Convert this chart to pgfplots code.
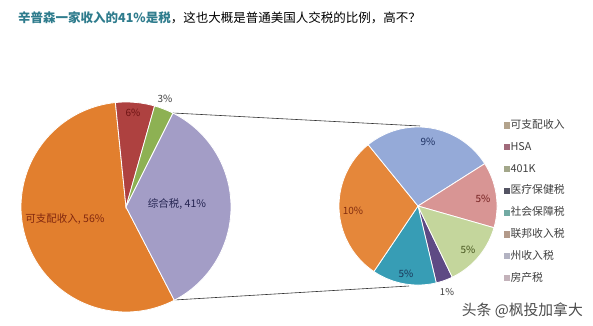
\documentclass[border=0pt]{standalone}
\usepackage{pgfplots}
\pgfplotsset{compat=1.18}
\usepackage{fontspec}
\newfontfamily\cjk{Noto Sans CJK SC}
\definecolor{titleteal}{HTML}{2F7C8D}
\definecolor{mOrange}{HTML}{E27F2E}
\definecolor{mRed}{HTML}{AE4140}
\definecolor{mGreen}{HTML}{8DB153}
\definecolor{mLav}{HTML}{A39DC6}
\definecolor{sBlue}{HTML}{95AAD8}
\definecolor{sPink}{HTML}{D89594}
\definecolor{sGreen}{HTML}{C4D69C}
\definecolor{sPurple}{HTML}{5E4A84}
\definecolor{sTeal}{HTML}{379DB5}
\definecolor{sOrange}{HTML}{E5873A}
% muted legend colours
\definecolor{lg1}{HTML}{B3A38C}
\definecolor{lg2}{HTML}{A06A7A}
\definecolor{lg3}{HTML}{A3A78A}
\definecolor{lg4}{HTML}{545463}
\definecolor{lg5}{HTML}{72AAA3}
\definecolor{lg6}{HTML}{B39A8A}
\definecolor{lg7}{HTML}{B3B3C2}
\definecolor{lg8}{HTML}{C3B2BA}

% slice drawing: running sum \pcum, \ptotal, \pstart, centre \pcx,\pcy, radius \prr
\newcommand\pieslice[2]{%
  \pgfmathsetmacro\pangA{\pstart-\pcum/\ptotal*360}%
  \pgfmathsetmacro\pangB{\pstart-(\pcum+#2)/\ptotal*360}%
  \edef\pdoslice{\noexpand\addplot[forget plot, draw=white, line width=0.8pt, fill=#1, domain=\pangB:\pangA, samples=80] ({\pcx+\prr*cos(x)},{\pcy+\prr*sin(x)}) -- (axis cs:\pcx,\pcy) -- cycle;}%
  \pdoslice
  \pgfmathsetmacro\pnewcum{\pcum+#2}\xdef\pcum{\pnewcum}}

\begin{document}
\begin{tikzpicture}
\begin{axis}[
  width=593pt, height=325pt, scale only axis,
  xmin=0, xmax=593, ymin=0, ymax=325,
  hide axis, clip=false,
  legend image code/.code={\fill[#1] (0pt,-2.6pt) rectangle (5.2pt,2.6pt);},
  legend style={draw=none, fill=none, inner sep=0pt, outer sep=0pt,
    at={(axis cs:504,206)}, anchor=north west,
    font=\cjk\fontsize{10.8}{12}\selectfont, text=black!75,
    nodes={inner sep=1pt, text height=8.5pt, text depth=2pt},
    row sep=9.3pt,
    /tikz/every odd column/.style={column sep=0pt}},
  legend cell align=left,
]
\fill[white] (rel axis cs:0,0) rectangle (rel axis cs:1,1);

% connector lines
\draw[black!80, line width=0.6pt] (axis cs:173,212) -- (axis cs:420,199);
\draw[black!80, line width=0.6pt] (axis cs:174,25) -- (axis cs:409,39);

% main pie: 可支配收入 56, HSA 6, 401K 3, 综合税 (35 of angle)
\gdef\pcum{0}\gdef\ptotal{100}\gdef\pstart{-62.6}
\gdef\pcx{126}\gdef\pcy{118}\gdef\prr{105}
\pieslice{mOrange}{56}
\pieslice{mRed}{6}
\pieslice{mGreen}{3}
\pieslice{mLav}{35}

% secondary pie
\gdef\pcum{0}\gdef\ptotal{35}\gdef\pstart{-64.3}
\gdef\pcx{418}\gdef\pcy{119}\gdef\prr{79}
\pieslice{sPurple}{1.2}
\pieslice{sTeal}{4.6}
\pieslice{sOrange}{10.4}
\pieslice{sBlue}{9.4}
\pieslice{sPink}{4.7}
\pieslice{sGreen}{4.7}

% data labels
\node[font=\cjk\fontsize{10.5}{12}\selectfont, text={rgb,255:red,130;green,40;blue,15}] at (axis cs:65,106) {可支配收入, 56\%};
\node[font=\cjk\fontsize{10}{12}\selectfont, text={rgb,255:red,110;green,20;blue,20}] at (axis cs:133,212) {6\%};
\node[font=\cjk\fontsize{10}{12}\selectfont, text=black!75] at (axis cs:165,226) {3\%};
\node[font=\cjk\fontsize{10.5}{12}\selectfont, text={rgb,255:red,35;green,35;blue,80}] at (axis cs:177,121) {综合税, 41\%};

\node[font=\cjk\fontsize{10}{12}\selectfont, text={rgb,255:red,30;green,50;blue,100}] at (axis cs:428,183) {9\%};
\node[font=\cjk\fontsize{10}{12}\selectfont, text={rgb,255:red,115;green,30;blue,30}] at (axis cs:483,126) {5\%};
\node[font=\cjk\fontsize{10}{12}\selectfont, text={rgb,255:red,70;green,85;blue,30}] at (axis cs:468,75) {5\%};
\node[font=\cjk\fontsize{9.5}{12}\selectfont, text=black!75] at (axis cs:447,33) {1\%};
\node[font=\cjk\fontsize{10}{12}\selectfont, text={rgb,255:red,25;green,55;blue,90}] at (axis cs:406,51) {5\%};
\node[font=\cjk\fontsize{10}{12}\selectfont, text={rgb,255:red,130;green,45;blue,15}] at (axis cs:353,114) {10\%};

% legend
\addlegendimage{lg1}\addlegendentry{可支配收入}
\addlegendimage{lg2}\addlegendentry{HSA}
\addlegendimage{lg3}\addlegendentry{401K}
\addlegendimage{lg4}\addlegendentry{医疗保健税}
\addlegendimage{lg5}\addlegendentry{社会保障税}
\addlegendimage{lg6}\addlegendentry{联邦收入税}
\addlegendimage{lg7}\addlegendentry{州收入税}
\addlegendimage{lg8}\addlegendentry{房产税}

% title
\node[anchor=west, font=\cjk\fontsize{12.5}{15}\selectfont, inner sep=0pt] at (axis cs:18,307)
  {\textcolor{titleteal}{\bfseries 辛普森一家收入的41\%是税}，这也大概是普通美国人交税的比例，高不？};
% watermark
\node[anchor=east, font=\cjk\fontsize{14.8}{16}\selectfont, text=black!70, inner sep=0pt] at (axis cs:583,15) {头条 @枫投加拿大};
\end{axis}
\end{tikzpicture}
\end{document}
